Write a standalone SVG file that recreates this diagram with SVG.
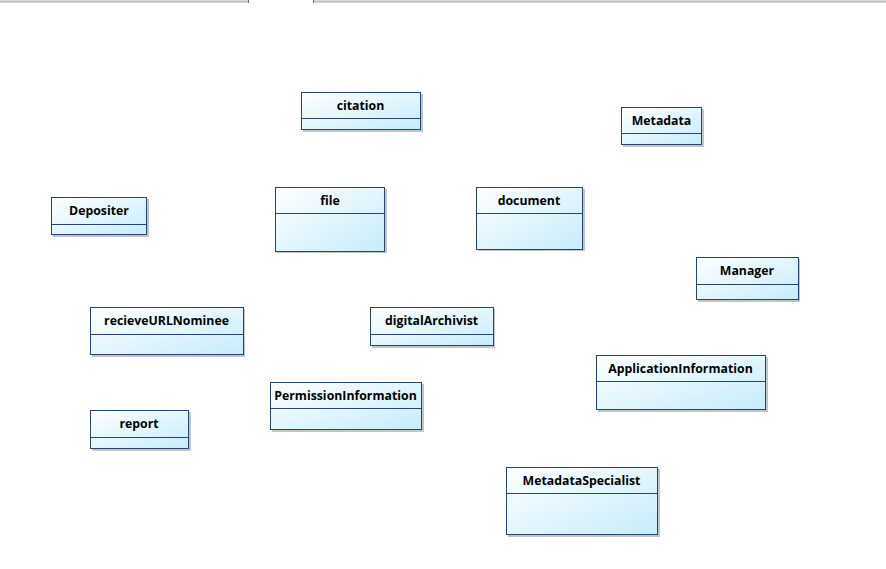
<svg xmlns="http://www.w3.org/2000/svg" width="886" height="569" viewBox="0 0 886 569">
<defs>
<linearGradient id="g" x1="0" y1="0" x2="1" y2="1">
<stop offset="0" stop-color="#ffffff"/>
<stop offset="1" stop-color="#c6ecfc"/>
</linearGradient>
</defs>
<style>
.sh{fill:#c4c4c4;}
.bx{fill:url(#g);stroke:#27466b;stroke-width:1;}
.dv{stroke:#27466b;stroke-width:1;}
.t{font-family:"Open Sans","Noto Sans","Liberation Sans",sans-serif;font-weight:bold;font-size:12.3px;fill:#000;text-anchor:middle;}
.tab{stroke:#b8b8b8;stroke-width:2;fill:none;}
.tick{stroke:#707070;stroke-width:1;}
</style>
<rect width="886" height="569" fill="#ffffff"/>
<g id="tabbar">
<line class="tab" x1="0" y1="1.5" x2="249" y2="1.5"/>
<line class="tab" x1="313" y1="1.5" x2="886" y2="1.5"/>
<line class="tick" x1="248.5" y1="0" x2="248.5" y2="3"/>
<line class="tick" x1="313.5" y1="0" x2="313.5" y2="3"/>
</g>
<g id="connectors"></g>
<g id="citation">
<rect class="sh" x="303" y="94" width="120" height="38"/>
<rect class="bx" x="301.5" y="92.5" width="119" height="37"/>
<line class="dv" x1="301.5" y1="118.5" x2="420.5" y2="118.5"/>
<text class="t" x="360.5" y="109.5">citation</text>
</g>
<g id="Metadata">
<rect class="sh" x="623" y="109" width="81" height="38"/>
<rect class="bx" x="621.5" y="107.5" width="80" height="37"/>
<line class="dv" x1="621.5" y1="133.5" x2="701.5" y2="133.5"/>
<text class="t" x="661.5" y="124.5">Metadata</text>
</g>
<g id="Depositer">
<rect class="sh" x="53" y="199" width="96" height="38"/>
<rect class="bx" x="51.5" y="197.5" width="95" height="37"/>
<line class="dv" x1="51.5" y1="224.5" x2="146.5" y2="224.5"/>
<text class="t" x="99" y="214.5">Depositer</text>
</g>
<g id="file">
<rect class="sh" x="277" y="189" width="110" height="64"/>
<rect class="bx" x="275.5" y="187.5" width="109" height="64"/>
<line class="dv" x1="275.5" y1="213.5" x2="384.5" y2="213.5"/>
<text class="t" x="330" y="204.5">file</text>
</g>
<g id="document">
<rect class="sh" x="478" y="189" width="107" height="62"/>
<rect class="bx" x="476.5" y="187.5" width="106" height="62"/>
<line class="dv" x1="476.5" y1="213.5" x2="582.5" y2="213.5"/>
<text class="t" x="529" y="204.5">document</text>
</g>
<g id="Manager">
<rect class="sh" x="698" y="259" width="102" height="43"/>
<rect class="bx" x="696.5" y="257.5" width="102" height="42"/>
<line class="dv" x1="696.5" y1="284.5" x2="798.5" y2="284.5"/>
<text class="t" x="747" y="274.5">Manager</text>
</g>
<g id="recieveURLNominee">
<rect class="sh" x="92" y="309" width="153" height="48"/>
<rect class="bx" x="90.5" y="307.5" width="153" height="47"/>
<line class="dv" x1="90.5" y1="334.5" x2="243.5" y2="334.5"/>
<text class="t" x="166.5" y="324.5">recieveURLNominee</text>
</g>
<g id="digitalArchivist">
<rect class="sh" x="372" y="309" width="123" height="39"/>
<rect class="bx" x="370.5" y="307.5" width="123" height="38"/>
<line class="dv" x1="370.5" y1="334.5" x2="493.5" y2="334.5"/>
<text class="t" x="431.5" y="324.5">digitalArchivist</text>
</g>
<g id="ApplicationInformation">
<rect class="sh" x="598" y="357" width="170" height="55"/>
<rect class="bx" x="596.5" y="355.5" width="169" height="54"/>
<line class="dv" x1="596.5" y1="381.5" x2="765.5" y2="381.5"/>
<text class="t" x="680.5" y="372.5">ApplicationInformation</text>
</g>
<g id="PermissionInformation">
<rect class="sh" x="272" y="384" width="152" height="48"/>
<rect class="bx" x="270.5" y="382.5" width="151" height="47"/>
<line class="dv" x1="270.5" y1="408.5" x2="421.5" y2="408.5"/>
<text class="t" x="345.5" y="399.5">PermissionInformation</text>
</g>
<g id="report">
<rect class="sh" x="92" y="412" width="99" height="39"/>
<rect class="bx" x="90.5" y="410.5" width="98" height="38"/>
<line class="dv" x1="90.5" y1="437.5" x2="188.5" y2="437.5"/>
<text class="t" x="139" y="427.5">report</text>
</g>
<g id="MetadataSpecialist">
<rect class="sh" x="508" y="469" width="152" height="68"/>
<rect class="bx" x="506.5" y="467.5" width="151" height="67"/>
<line class="dv" x1="506.5" y1="493.5" x2="657.5" y2="493.5"/>
<text class="t" x="581.5" y="484.5">MetadataSpecialist</text>
</g>
</svg>
